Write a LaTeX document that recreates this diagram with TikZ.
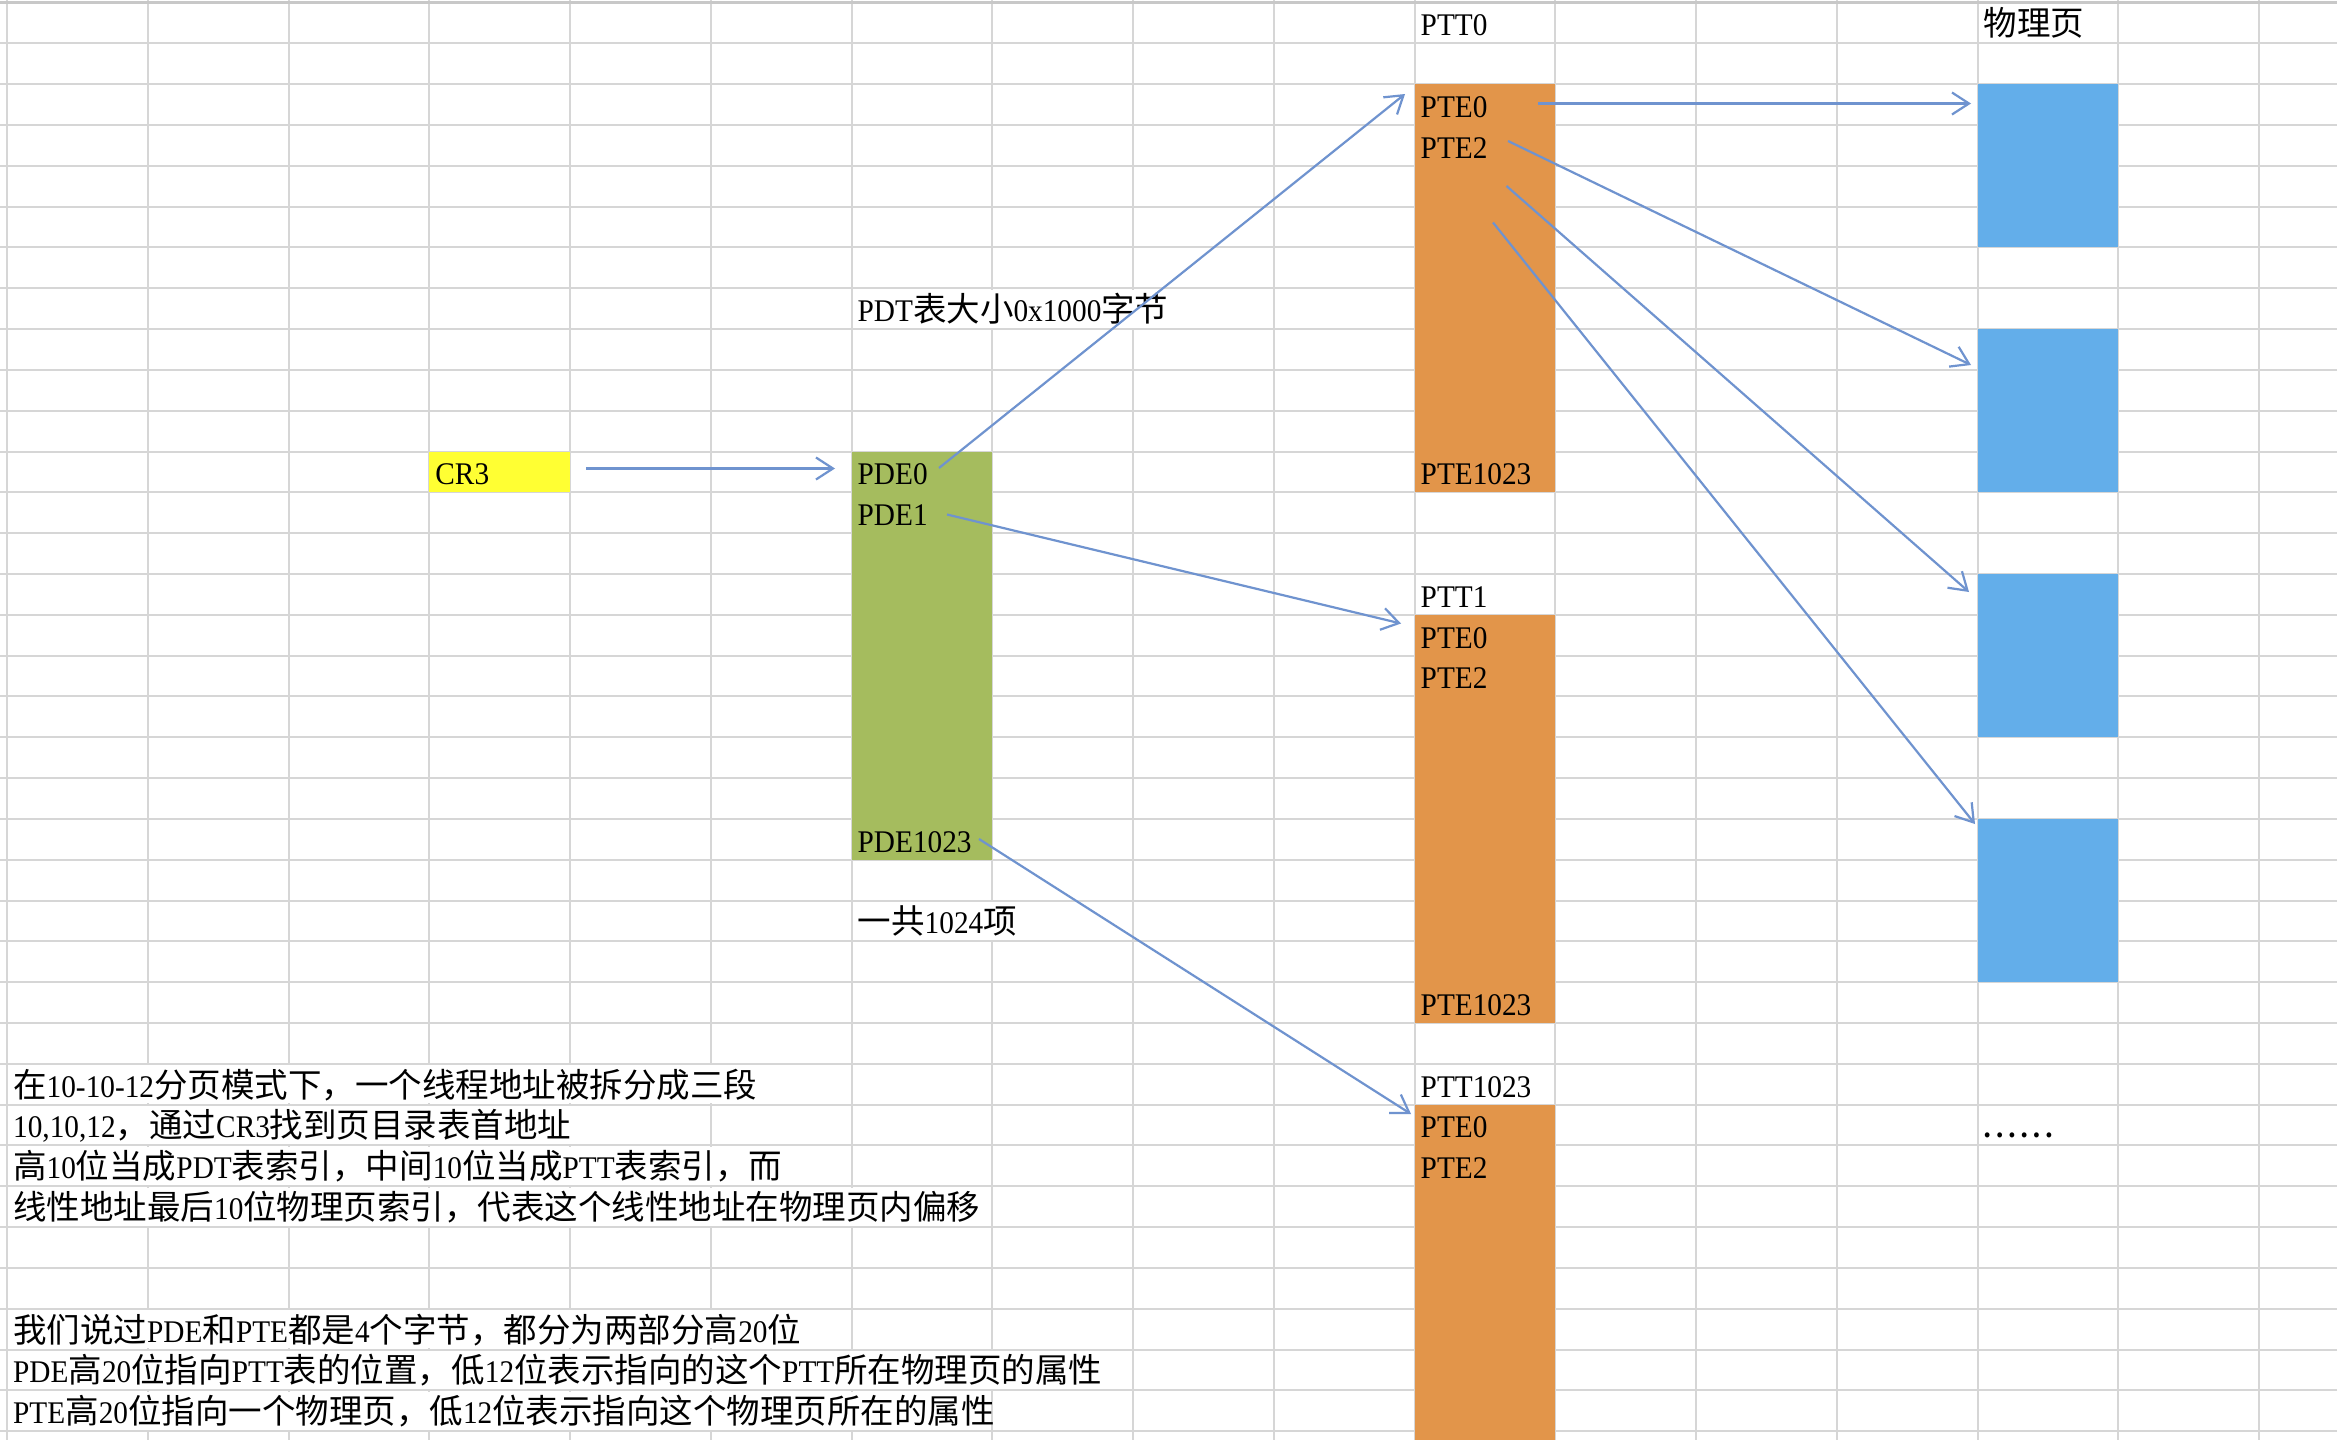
\documentclass[tikz,border=0pt]{standalone}
\usepackage{fontspec}
\setmainfont[FakeStretch=0.93]{Liberation Serif}
\newfontfamily\cjk{Noto Sans CJK SC}
\usetikzlibrary{arrows.meta}
\definecolor{gridC}{RGB}{214,214,214}
\definecolor{topC}{RGB}{200,200,200}
\definecolor{orangeC}{RGB}{226,149,74}
\definecolor{greenC}{RGB}{165,188,94}
\definecolor{blueC}{RGB}{99,174,234}
\definecolor{yellowC}{RGB}{255,255,51}
\definecolor{arrowC}{RGB}{111,147,207}
\newcommand\C[1]{{\cjk\fontsize{33.5}{33.5}\selectfont #1}}
\def\cw{140.75}\def\rh{40.82}\def\xo{7}\def\yo{43.3}
\newcommand\cell[4]{\node[txt] (#1) at ({\xo+\cw*#2+6},{\yo+\rh*(#3+1)-7.5}) {#4};}
\newcommand\block[6]{%
  \pgfmathsetmacro\bx{\xo+\cw*#3}%
  \pgfmathsetmacro\bwd{\cw*(#4-#3)}%
  \pgfmathsetmacro\by{#5}%
  \pgfmathsetmacro\bht{(#6)-(#5)}%
  \node[fill=#2, draw=none, inner sep=0pt, outer sep=0pt, minimum width=\bwd pt, minimum height=\bht pt, anchor=north west] (#1) at (\bx,\by) {};}
\newcommand\mask[3]{\fill[white] ({\xo+\cw*#2+1.5},{\yo+\rh*#1+1.5}) rectangle ({\xo+\cw*(#3+1)-1.5},{\yo+\rh*(#1+1)-1.5});}
\begin{document}
\begin{tikzpicture}[x=1pt,y=-1pt,
  txt/.style={anchor=base west, inner sep=0pt, font=\fontsize{31.5}{31.5}\selectfont},
  gridline/.style={draw=gridC, line width=2pt},
  conn/.style={draw=arrowC, line width=2.2pt, -{Straight Barb[length=17pt,width=22pt]}}]
\useasboundingbox (0,0) rectangle (2337,1440);
\fill[white] (0,0) rectangle (2337,1440);
% grid
\foreach \k in {0,...,16} \draw[gridline] ({\xo+\cw*\k},0) -- ({\xo+\cw*\k},1440);
\foreach \k in {0,...,34} \draw[gridline] (0,{\yo+\rh*\k}) -- (2337,{\yo+\rh*\k});
\draw[draw=topC, line width=3pt] (0,2) -- (2337,2);
% overflow text masks
\mask{6}{6}{8}
\mask{21}{6}{7}
\mask{25}{0}{5}
\mask{26}{0}{4}
\mask{27}{0}{5}
\mask{28}{0}{6}
\mask{31}{0}{5}
\mask{32}{0}{7}
\mask{33}{0}{6}
% blocks
\block{cr3box}{yellowC}{3}{4}{\yo+\rh*10}{\yo+\rh*11}
\block{pdt}{greenC}{6}{7}{\yo+\rh*10}{\yo+\rh*20}
\block{ptt0}{orangeC}{10}{11}{\yo+\rh*1}{\yo+\rh*11}
\block{ptt1}{orangeC}{10}{11}{\yo+\rh*14}{\yo+\rh*24}
\block{ptt1023}{orangeC}{10}{11}{\yo+\rh*26}{1440}
\block{pg1}{blueC}{14}{15}{\yo+\rh*1}{\yo+\rh*5}
\block{pg2}{blueC}{14}{15}{\yo+\rh*7}{\yo+\rh*11}
\block{pg3}{blueC}{14}{15}{\yo+\rh*13}{\yo+\rh*17}
\block{pg4}{blueC}{14}{15}{\yo+\rh*19}{\yo+\rh*23}
% texts
\cell{tptt0}{10}{-1}{PTT0}
\cell{tphys}{14}{-1}{\C{物理页}}
\cell{t0pte0}{10}{1}{PTE0}
\cell{t0pte2}{10}{2}{PTE2}
\cell{t0pte1023}{10}{10}{PTE1023}
\cell{tpdtsize}{6}{6}{PDT\C{表大小}0x1000\C{字节}}
\cell{tcr3}{3}{10}{CR3}
\cell{tpde0}{6}{10}{PDE0}
\cell{tpde1}{6}{11}{PDE1}
\cell{tpde1023}{6}{19}{PDE1023}
\cell{tptt1}{10}{13}{PTT1}
\cell{t1pte0}{10}{14}{PTE0}
\cell{t1pte2}{10}{15}{PTE2}
\cell{t1pte1023}{10}{23}{PTE1023}
\cell{tcount}{6}{21}{\C{一共}1024\C{项}}
\cell{tptt1023}{10}{25}{PTT1023}
\cell{t2pte0}{10}{26}{PTE0}
\cell{t2pte2}{10}{27}{PTE2}
\cell{tdots}{14}{26}{\textbf{.\kern5pt.\kern5pt.\kern5pt.\kern5pt.\kern5pt.}}
\cell{n1}{0}{25}{\C{在}10-10-12\C{分页模式下，一个线程地址被拆分成三段}}
\cell{n2}{0}{26}{10,10,12\C{，通过}CR3\C{找到页目录表首地址}}
\cell{n3}{0}{27}{\C{高}10\C{位当成}PDT\C{表索引，中间}10\C{位当成}PTT\C{表索引，而}}
\cell{n4}{0}{28}{\C{线性地址最后}10\C{位物理页索引，代表这个线性地址在物理页内偏移}}
\cell{n5}{0}{31}{\C{我们说过}PDE\C{和}PTE\C{都是}4\C{个字节，都分为两部分高}20\C{位}}
\cell{n6}{0}{32}{PDE\C{高}20\C{位指向}PTT\C{表的位置，低}12\C{位表示指向的这个}PTT\C{所在物理页的属性}}
\cell{n7}{0}{33}{PTE\C{高}20\C{位指向一个物理页，低}12\C{位表示指向这个物理页所在的属性}}
% connector end points
\coordinate (c1s) at (586,468.5);   \coordinate (c1e) at (835,468.5);
\coordinate (c2s) at (939,468);     \coordinate (c2e) at (1405,94);
\coordinate (c3s) at (947,514.5);   \coordinate (c3e) at (1401,623.5);
\coordinate (c4s) at (979,839);     \coordinate (c4e) at (1411,1114);
\coordinate (c5s) at (1538,103.5);  \coordinate (c5e) at (1971,103.5);
\coordinate (c6s) at (1508,141);    \coordinate (c6e) at (1971,365);
\coordinate (c7s) at (1506.5,186);  \coordinate (c7e) at (1969,592);
\coordinate (c8s) at (1493,222.5);  \coordinate (c8e) at (1975,824);
\draw[conn] (c1s) -- (c1e);
\draw[conn] (c2s) -- (c2e);
\draw[conn] (c3s) -- (c3e);
\draw[conn] (c4s) -- (c4e);
\draw[conn] (c5s) -- (c5e);
\draw[conn] (c6s) -- (c6e);
\draw[conn] (c7s) -- (c7e);
\draw[conn] (c8s) -- (c8e);
\end{tikzpicture}
\end{document}
